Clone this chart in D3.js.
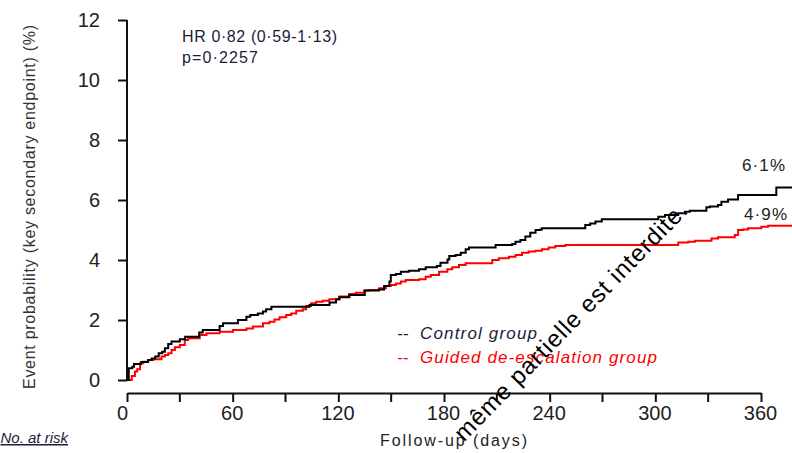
<!DOCTYPE html>
<html>
<head>
<meta charset="utf-8">
<script src="https://cdn.jsdelivr.net/npm/d3@7"></script>
<style>
  body { margin: 0; background: #fff; }
  #chart { width: 792px; height: 453px; overflow: hidden; }
  text { font-family: "Liberation Sans", Arial, sans-serif; }
</style>
</head>
<body>
<div id="chart"></div>
<script>
// KM curves (day, cumulative %)
var controlDays = [0, 1, 3, 4, 8, 12, 14, 16, 18, 20, 21.5, 23.4, 25.3, 30, 33, 41, 43, 52.6, 54.5, 63, 67.8, 70, 74.3, 77.2, 79, 82,
  103.6, 115, 118.7, 120.6, 126.2, 135, 143, 146, 149, 149.8, 152.7, 155.5, 160, 165.8, 169.6, 176, 178, 182, 183, 186.6, 189.5,
  192.3, 194.2, 209.3, 218.7, 220.6, 223.4, 226.2, 229, 232, 234.7, 235.6, 260.2, 263, 266, 269.6, 301.7, 305.5, 313, 316.8,
  319.6, 329, 331, 335.6, 337.5, 341.3, 347, 368.7, 380];
var controlPct = [0, 0.39, 0.44, 0.53, 0.6, 0.67, 0.72, 0.78, 0.89, 0.94, 1.06, 1.2, 1.28, 1.36, 1.44, 1.58, 1.67, 1.8, 1.89, 2.0, 2.11, 2.17, 2.22, 2.28, 2.36, 2.44,
  2.5, 2.58, 2.69, 2.76, 2.83, 2.98, 3.02, 3.13, 3.28, 3.5, 3.53, 3.61, 3.64, 3.69, 3.76, 3.8, 3.91, 4.02, 4.13, 4.17, 4.24,
  4.36, 4.42, 4.5, 4.53, 4.61, 4.67, 4.78, 4.91, 5.0, 5.02, 5.06, 5.17, 5.22, 5.28, 5.36, 5.44, 5.5, 5.56, 5.61,
  5.64, 5.76, 5.78, 5.83, 5.94, 6.02, 6.17, 6.42, 6.42];

var deescDays = [0, 2.7, 4.5, 5.8, 7.4, 9.2, 12, 15, 19.6, 21.5, 23.4, 25.3, 27.2, 30, 32.8, 34.7, 41.3, 45.1, 52.6, 60.2, 67.8, 71.5,
  77.2, 80.9, 83.8, 86.6, 90.4, 93.2, 96.1, 99.8, 101.7, 104.5, 107.4, 111.1, 114.9, 120.6, 126.2, 130, 134.7, 137.5, 143.2,
  147, 149.8, 152.7, 155.5, 158.3, 165.8, 169.6, 172.5, 177.2, 181.9, 184.7, 188.5, 192.3, 207.4, 211.1, 216.8, 220.6, 224.3,
  228.1, 231.9, 235.6, 239.4, 243.2, 248.9, 313, 318.7, 322.5, 331.9, 335.6, 345.1, 347, 349.8, 352.6, 360.2, 364, 380];
var deescPct = [0, 0.13, 0.28, 0.36, 0.56, 0.61, 0.67, 0.69, 0.78, 0.83, 0.89, 1.0, 1.09, 1.17, 1.33, 1.39, 1.5, 1.56, 1.61, 1.67, 1.72, 1.78,
  1.89, 1.94, 2.02, 2.09, 2.17, 2.22, 2.31, 2.36, 2.47, 2.56, 2.61, 2.64, 2.69, 2.78, 2.87, 2.91, 2.98, 3.0, 3.06,
  3.13, 3.17, 3.22, 3.28, 3.33, 3.36, 3.44, 3.5, 3.61, 3.69, 3.76, 3.83, 3.89, 4.0, 4.06, 4.11, 4.17, 4.24,
  4.28, 4.31, 4.36, 4.42, 4.47, 4.5, 4.58, 4.61, 4.64, 4.72, 4.76, 4.83, 5.0, 5.02, 5.06, 5.11, 5.14, 5.14];

var xTicks = [0, 60, 120, 180, 240, 300, 360];
var xMinor = [30, 90, 150, 210, 270, 330];
var yTicks = [0, 2, 4, 6, 8, 10, 12];
var endLabels = ["6·1%", "4·9%"];
var legendLabels = ["Control group", "Guided de-escalation group"];
var colors = ["#000000", "#ff0000"];

var x = d3.scaleLinear().domain([0, 360]).range([127, 761]);
var y = d3.scaleLinear().domain([0, 12]).range([380, 20]);

var svg = d3.select("#chart").append("svg").attr("width", 792).attr("height", 453);

// y axis
var yAxis = svg.append("g").attr("transform", "translate(127,0)")
  .call(d3.axisLeft(y).tickValues(yTicks).tickSize(9).tickPadding(18));
yAxis.select(".domain").attr("d", "M0," + y(12) + "V" + y(0));
yAxis.selectAll("line, path").attr("stroke", "#111").attr("stroke-width", 2);
yAxis.selectAll("text").attr("font-size", 20).attr("fill", "#222")
  .attr("font-family", "Liberation Sans, Arial, sans-serif");

// x axis
var xAxis = svg.append("g").attr("transform", "translate(0,393)")
  .call(d3.axisBottom(x).tickValues(xTicks).tickSize(9).tickPadding(4).tickSizeOuter(0));
xAxis.selectAll(".minor").data(xMinor).enter().append("line")
  .attr("x1", function(d) { return x(d); }).attr("x2", function(d) { return x(d); })
  .attr("y1", 0).attr("y2", 9);
xAxis.selectAll("line, path").attr("stroke", "#111").attr("stroke-width", 2);
xAxis.selectAll("text").attr("font-size", 20).attr("fill", "#222")
  .attr("dx", function(d) { return d == 0 ? -5 : -1; })
  .attr("font-family", "Liberation Sans, Arial, sans-serif");

// curves
var line = d3.line()
  .x(function(d) { return x(d[0]); })
  .y(function(d) { return y(d[1]); })
  .curve(d3.curveStepAfter);

var series = [
  d3.zip(controlDays, controlPct),
  d3.zip(deescDays, deescPct)
];
// red first, black on top
[1, 0].forEach(function(i) {
  svg.append("path").datum(series[i])
    .attr("fill", "none")
    .attr("stroke", colors[i])
    .attr("stroke-width", 2)
    .attr("d", line);
});

// end labels
svg.append("text").attr("x", 742).attr("y", 171).attr("font-size", 17).attr("fill", "#222")
  .attr("textLength", 43).text(endLabels[0]);
svg.append("text").attr("x", 744).attr("y", 220).attr("font-size", 17).attr("fill", "#222")
  .attr("textLength", 43).text(endLabels[1]);

// HR
svg.append("text").attr("x", 182).attr("y", 42).attr("font-size", 16).attr("fill", "#1c1c3a")
  .attr("textLength", 155).text("HR 0·82 (0·59-1·13)");
svg.append("text").attr("x", 182).attr("y", 63).attr("font-size", 16).attr("fill", "#1c1c3a")
  .attr("textLength", 76).text("p=0·2257");

// legend
var legend = svg.append("g").attr("font-size", 17).attr("font-style", "italic");
legendLabels.forEach(function(t, i) {
  var c = i == 0 ? "#1c1c3a" : colors[1];
  legend.append("text").attr("x", 397).attr("y", 339 + i * 24).attr("fill", c).text("--");
  legend.append("text").attr("x", 420).attr("y", 339 + i * 24).attr("fill", c)
    .attr("textLength", i == 0 ? 117 : 237).text(t);
});

// axis titles
svg.append("text").attr("transform", "translate(35,207) rotate(-90)")
  .attr("text-anchor", "middle").attr("font-size", 16).attr("fill", "#333")
  .attr("textLength", 364).text("Event probability (key secondary endpoint) (%)");
svg.append("text").attr("x", 380).attr("y", 446).attr("font-size", 16).attr("fill", "#222")
  .attr("textLength", 147).text("Follow-up (days)");

svg.append("text").attr("x", 68).attr("y", 443).attr("text-anchor", "end")
  .attr("font-size", 15).attr("font-style", "italic").attr("fill", "#1c1c3a")
  .attr("text-decoration", "underline").text("No. at risk");

// black diagonal notice over the plot
svg.append("text").attr("text-anchor", "end")
  .attr("transform", "translate(689,212) rotate(-45.7)")
  .attr("font-size", 24).attr("fill", "#000")
  .attr("textLength", 322).text("même partielle est interdite.");
</script>
</body>
</html>
